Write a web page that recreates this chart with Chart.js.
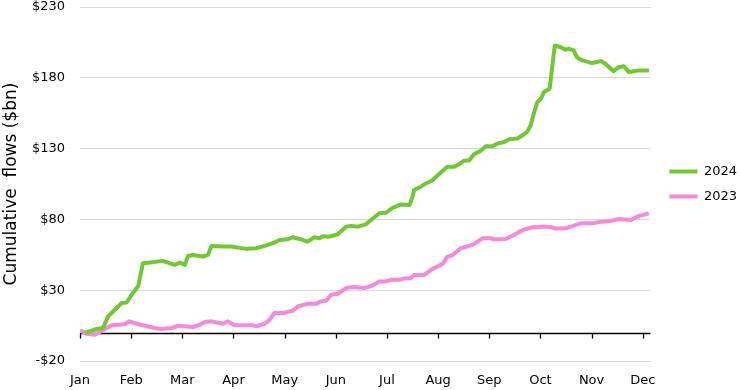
<!DOCTYPE html>
<html>
<head>
<meta charset="utf-8">
<script src="https://cdn.jsdelivr.net/npm/chart.js@4.4.1/dist/chart.umd.min.js"></script>
<style>
  html, body { margin: 0; padding: 0; background: #fff; }
  #wrap { width: 740px; height: 390px; }
</style>
</head>
<body>
<div id="wrap"><canvas id="flows-chart"></canvas></div>
<script>
// month labels, x positions are in months from Jan (0 = Jan, 11 = Dec)
const monthLabels = ['Jan', 'Feb', 'Mar', 'Apr', 'May', 'Jun', 'Jul', 'Aug', 'Sep', 'Oct', 'Nov', 'Dec'];
const yTicks = [-20, 30, 80, 130, 180, 230];

// 2024 cumulative flows ($bn)
const x2024 = [0.10, 0.33, 0.45, 0.55, 0.68, 0.81, 0.91, 1.01, 1.14, 1.23, 1.37, 1.62, 1.85, 1.95, 2.05, 2.11, 2.21, 2.40, 2.50, 2.57,
  2.80, 2.96, 3.25, 3.45, 3.64, 3.77, 3.90, 4.06, 4.16, 4.29, 4.45, 4.58, 4.68, 4.75, 4.88, 5.04, 5.20, 5.30, 5.43, 5.59,
  5.69, 5.85, 5.98, 6.11, 6.27, 6.44, 6.50, 6.53, 6.66, 6.76, 6.89, 7.02, 7.18, 7.31, 7.41, 7.51, 7.61, 7.70, 7.83, 7.93,
  8.06, 8.16, 8.29, 8.39, 8.55, 8.65, 8.74, 8.81, 8.87, 8.94, 9.01, 9.07, 9.18, 9.28, 9.40, 9.49, 9.56, 9.65, 9.72, 9.82,
  10.01, 10.18, 10.27, 10.43, 10.53, 10.63, 10.73, 10.89, 11.12];
const y2024 = [0.0, 2.6, 3.3, 11.5, 16.2, 20.9, 21.3, 26.8, 33.1, 49.1, 49.5, 50.7, 47.9, 49.5, 47.9, 54.2, 54.9, 53.8, 54.9, 61.3,
  60.8, 60.8, 59.2, 59.6, 61.7, 63.2, 65.5, 66.0, 67.4, 66.2, 64.3, 67.4, 66.7, 68.1, 67.8, 69.5, 74.9, 75.4, 74.9, 76.5,
  79.6, 84.3, 84.7, 88.2, 90.6, 90.1, 96.0, 100.7, 103.1, 105.4, 107.7, 112.0, 117.1, 117.1, 119.0, 121.4, 121.8, 126.0, 128.4, 131.7,
  131.7, 133.6, 134.7, 136.6, 137.1, 139.4, 141.8, 146.5, 154.7, 162.9, 165.3, 170.0, 172.3, 202.8, 201.6, 199.8, 200.5, 199.3, 194.1, 192.3,
  190.4, 191.8, 189.9, 184.7, 187.5, 188.2, 184.0, 185.2, 185.2];

// 2023 cumulative flows ($bn)
const x2023 = [0.00, 0.13, 0.29, 0.49, 0.62, 0.78, 0.88, 0.96, 1.11, 1.23, 1.46, 1.59, 1.79, 1.92, 2.21, 2.34, 2.44, 2.57, 2.80, 2.89,
  3.02, 3.38, 3.45, 3.61, 3.71, 3.80, 3.97, 4.16, 4.26, 4.45, 4.62, 4.71, 4.81, 4.91, 5.04, 5.20, 5.36, 5.56, 5.72, 5.85,
  5.98, 6.08, 6.24, 6.37, 6.47, 6.53, 6.73, 6.86, 7.09, 7.18, 7.28, 7.44, 7.61, 7.70, 7.87, 8.03, 8.09, 8.32, 8.48, 8.65,
  8.84, 9.10, 9.23, 9.30, 9.49, 9.65, 9.79, 10.01, 10.18, 10.40, 10.53, 10.77, 10.92, 11.12];
const y2023 = [1.6, -0.7, -1.4, 2.6, 5.2, 5.6, 6.1, 8.0, 6.3, 5.2, 3.3, 2.6, 3.3, 4.9, 4.0, 5.6, 7.5, 8.0, 6.3, 8.0,
  5.2, 5.2, 4.5, 6.3, 9.2, 13.9, 13.9, 15.5, 18.5, 20.4, 20.4, 22.1, 22.5, 26.8, 27.5, 31.5, 32.2, 31.5, 33.3, 36.2,
  36.2, 37.3, 37.3, 38.5, 38.5, 40.8, 40.8, 44.4, 48.6, 53.7, 54.7, 59.6, 61.3, 62.5, 66.7, 66.7, 66.0, 66.2, 69.0, 72.5,
  74.4, 74.9, 74.4, 73.5, 73.7, 75.6, 77.2, 77.2, 78.4, 79.1, 80.3, 79.6, 82.4, 84.3];

const green = '#70c933';
const pink = '#f48ad9';
const fontFamily = "'DejaVu Sans', sans-serif";

function toPoints(xs, ys) {
  return xs.map((x, i) => ({ x: x, y: ys[i] }));
}

// zero line with month tick marks (axis crosses at 0)
const zeroLine = {
  id: 'zeroLine',
  beforeDatasetsDraw(chart) {
    const { ctx, chartArea, scales } = chart;
    const y0 = Math.round(scales.y.getPixelForValue(0)) + 0.5;
    ctx.save();
    ctx.strokeStyle = '#000';
    ctx.lineWidth = 1.3;
    ctx.beginPath();
    ctx.moveTo(chartArea.left, y0);
    ctx.lineTo(chartArea.right, y0);
    monthLabels.forEach((m, i) => {
      const x = Math.round(scales.x.getPixelForValue(i)) + 0.5;
      ctx.moveTo(x, y0);
      ctx.lineTo(x, y0 + 5);
    });
    ctx.stroke();
    ctx.restore();
  }
};

// push the legend a little to the right of the plot
const legendNudge = {
  id: 'legendNudge',
  afterLayout(chart) {
    const lg = chart.legend;
    if (!lg) return;
    lg.left += 7;
    lg.right += 7;
  }
};

const ctx = document.getElementById('flows-chart');
new Chart(ctx, {
  type: 'line',
  data: {
    datasets: [
      {
        label: '2024',
        data: toPoints(x2024, y2024),
        borderColor: green,
        backgroundColor: green,
        borderWidth: 4,
        borderJoinStyle: 'round',
        pointRadius: 0,
        pointStyle: 'line',
        tension: 0,
      },
      {
        label: '2023',
        data: toPoints(x2023, y2023),
        borderColor: pink,
        backgroundColor: pink,
        borderWidth: 4,
        borderJoinStyle: 'round',
        pointRadius: 0,
        pointStyle: 'line',
        tension: 0,
      }
    ]
  },
  options: {
    responsive: true,
    maintainAspectRatio: false,
    animation: false,
    layout: { padding: { top: 7, right: 0, bottom: 0, left: 0 }, autoPadding: false },
    plugins: {
      tooltip: { enabled: false },
      legend: {
        position: 'right',
        fullSize: false,
        labels: {
          usePointStyle: true,
          pointStyle: 'line',
          pointStyleWidth: 28,
          padding: 12,
          color: '#000',
          font: { family: fontFamily, size: 13 },
        }
      }
    },
    scales: {
      x: {
        type: 'linear',
        min: 0,
        max: 11.15,
        afterBuildTicks(scale) {
          scale.ticks = monthLabels.map((m, i) => ({ value: i }));
        },
        afterFit(scale) {
          scale.height = 29;
          scale.paddingLeft = 0;
          scale.paddingRight = 0;
        },
        grid: { display: false, drawTicks: false },
        border: { display: false },
        ticks: {
          autoSkip: false,
          maxRotation: 0,
          padding: 12,
          color: '#000',
          font: { family: fontFamily, size: 13 },
          callback: (value) => monthLabels[value],
        }
      },
      y: {
        min: -20,
        max: 230,
        afterBuildTicks(scale) {
          scale.ticks = yTicks.map(v => ({ value: v }));
        },
        afterFit(scale) {
          scale.width = 80;
          scale.paddingTop = 0;
          scale.paddingBottom = 0;
        },
        grid: { color: '#d9d9d9', lineWidth: 1, drawTicks: false },
        border: { display: false },
        title: {
          display: true,
          text: 'Cumulative  flows ($bn)',
          color: '#000',
          font: { family: fontFamily, size: 17 },
          padding: { top: 1, bottom: 6 },
        },
        ticks: {
          padding: 15,
          color: '#000',
          font: { family: fontFamily, size: 13 },
          callback: (value) => (value < 0 ? '-$' + Math.abs(value) : '$' + value),
        }
      }
    }
  },
  plugins: [zeroLine, legendNudge]
});
</script>
</body>
</html>
